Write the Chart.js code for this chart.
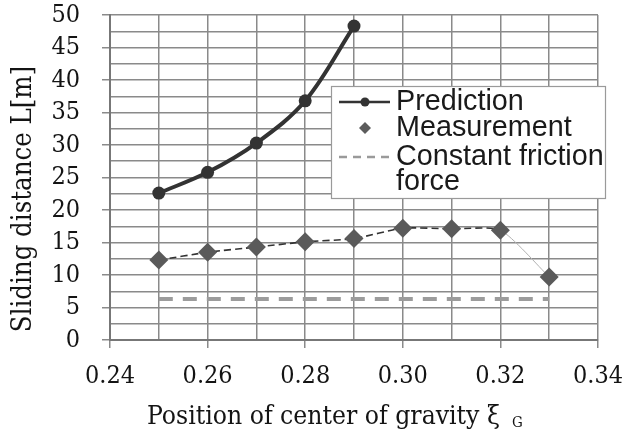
<!DOCTYPE html>
<html><head><meta charset="utf-8">
<script src="https://cdn.jsdelivr.net/npm/chart.js@4/dist/chart.umd.min.js"></script>
<style>html,body{margin:0;padding:0;background:#fff}canvas{display:block}</style>
</head><body>
<canvas id="c" width="625" height="430"></canvas>
<script>
// ---- data ----
const predictionX = [0.25, 0.26, 0.27, 0.28, 0.29];
const predictionY = [22.6, 25.8, 30.3, 36.8, 48.3];
const measurementX = [0.25, 0.26, 0.27, 0.28, 0.29, 0.30, 0.31, 0.32, 0.33];
const measurementY = [12.3, 13.5, 14.3, 15.1, 15.6, 17.2, 17.1, 16.9, 9.7];
const frictionX = [0.25, 0.33];
const frictionY = [6.3, 6.3];
const xTickLabels = ['0.24', '0.26', '0.28', '0.30', '0.32', '0.34'];
const yTickLabels = ['0', '5', '10', '15', '20', '25', '30', '35', '40', '45', '50'];
const seriesNames = ['Prediction', 'Measurement', 'Constant friction force'];
const xTitle = 'Position of center of gravity ξ';
const xTitleSub = 'G';
const yTitle = 'Sliding distance L[m]';

const pts = (xs, ys) => xs.map((x, i) => ({x, y: ys[i]}));
const serif = "'DejaVu Serif', serif";
const sans = "'Liberation Sans', Arial, sans-serif";
const GRID = '#8a8a8a';
const TXT = '#141414';

function fitFont(ctx, text, prefix, family, target) {
  let s = 10;
  for (; s < 60; s += 0.25) {
    ctx.font = prefix + s + 'px ' + family;
    if (ctx.measureText(text).width >= target) break;
  }
  return s;
}

const isMajorY = v => yTickLabels.includes(String(Math.round(v * 100) / 100));
const xLabelOf = v => { const s = v.toFixed(2); return xTickLabels.includes(s) ? s : ''; };

const legendPlugin = {
  id: 'customLegend',
  afterDatasetsDraw(chart) {
    const ctx = chart.ctx;
    ctx.save();
    const bx = 331, by = 86, bw = 274, bh = 112;
    ctx.fillStyle = '#fff';
    ctx.fillRect(bx, by, bw, bh);
    ctx.strokeStyle = '#9a9a9a';
    ctx.lineWidth = 1.2;
    ctx.strokeRect(bx + 0.5, by + 0.5, bw, bh);
    const iconL = 339, iconR = 390, iconC = 365, tx = 396;
    const rows = [102, 128, 157, 182];
    ctx.strokeStyle = '#333'; ctx.lineWidth = 2.5; ctx.setLineDash([]);
    ctx.beginPath(); ctx.moveTo(iconL, rows[0]); ctx.lineTo(iconR, rows[0]); ctx.stroke();
    ctx.fillStyle = '#333';
    ctx.beginPath(); ctx.arc(iconC, rows[0], 4.5, 0, Math.PI * 2); ctx.fill();
    ctx.fillStyle = '#5c5c5c';
    ctx.beginPath();
    ctx.moveTo(iconC, rows[1] - 6); ctx.lineTo(iconC + 6, rows[1]);
    ctx.lineTo(iconC, rows[1] + 6); ctx.lineTo(iconC - 6, rows[1]); ctx.closePath(); ctx.fill();
    ctx.strokeStyle = '#9a9a9a'; ctx.lineWidth = 2.5; ctx.setLineDash([8, 6]);
    ctx.beginPath(); ctx.moveTo(iconL, rows[2]); ctx.lineTo(iconR, rows[2]); ctx.stroke();
    ctx.setLineDash([]);
    const fs = fitFont(ctx, 'Constant friction', '', sans, 206);
    ctx.font = fs + 'px ' + sans;
    ctx.fillStyle = '#1a1a1a';
    ctx.textBaseline = 'middle';
    ctx.textAlign = 'left';
    ctx.fillText(seriesNames[0], tx, rows[0]);
    ctx.fillText(seriesNames[1], tx, rows[1]);
    const words = seriesNames[2].split(' ');
    ctx.fillText(words.slice(0, 2).join(' '), tx, rows[2]);
    ctx.fillText(words.slice(2).join(' '), tx, rows[3]);
    ctx.restore();
  }
};

const titlesPlugin = {
  id: 'axisTitles',
  afterDraw(chart) {
    const ctx = chart.ctx;
    ctx.save();
    ctx.fillStyle = TXT;
    const pre = 'semi-condensed ';
    const ys = fitFont(ctx, yTitle, pre, serif, 265);
    ctx.font = pre + ys + 'px ' + serif;
    ctx.translate(24, 199);
    ctx.rotate(-Math.PI / 2);
    ctx.textAlign = 'center';
    ctx.textBaseline = 'middle';
    ctx.fillText(yTitle, 0, 0);
    ctx.setTransform(1, 0, 0, 1, 0, 0);
    const xs = fitFont(ctx, xTitle, pre, serif, 350);
    ctx.font = pre + xs + 'px ' + serif;
    ctx.textAlign = 'left';
    ctx.textBaseline = 'alphabetic';
    ctx.fillText(xTitle, 147, 424);
    ctx.font = pre + '15px ' + serif;
    ctx.fillText(xTitleSub, 512, 427);
    ctx.restore();
  }
};

const tickFont = { family: serif, size: 25, weight: 'semi-condensed' };

new Chart(document.getElementById('c'), {
  type: 'scatter',
  data: {
    datasets: [
      {
        label: seriesNames[0],
        data: pts(predictionX, predictionY),
        showLine: true,
        borderColor: '#333',
        backgroundColor: '#333',
        borderWidth: 4,
        pointRadius: 6.5,
        pointBorderWidth: 0,
        tension: 0.35
      },
      {
        label: seriesNames[1],
        data: pts(measurementX, measurementY),
        showLine: false,
        pointStyle: 'rectRot',
        pointRadius: 9.5,
        pointBorderWidth: 0,
        backgroundColor: '#5a5a5a',
        borderColor: '#5a5a5a'
      },
      {
        label: 'trend',
        data: pts(measurementX, measurementY),
        showLine: true,
        pointRadius: 0,
        borderColor: '#333',
        borderWidth: 1.6,
        borderDash: [7, 4],
        tension: 0.2,
        segment: {
          borderColor: c => c.p1DataIndex === measurementX.length - 1 ? '#b0b0b0' : undefined,
          borderDash: c => c.p1DataIndex === measurementX.length - 1 ? [] : undefined,
          borderWidth: c => c.p1DataIndex === measurementX.length - 1 ? 1 : undefined
        }
      },
      {
        label: seriesNames[2],
        data: pts(frictionX, frictionY),
        showLine: true,
        pointRadius: 0,
        borderColor: '#9c9c9c',
        borderWidth: 4,
        borderDash: [14, 10]
      }
    ]
  },
  options: {
    responsive: false,
    animation: false,
    devicePixelRatio: 1,
    layout: { padding: { top: 15, right: 27, left: 0, bottom: 0 } },
    plugins: { legend: { display: false }, tooltip: { enabled: false } },
    scales: {
      x: {
        type: 'linear', min: 0.24, max: 0.34,
        afterFit: s => { s.height = 90; s.paddingLeft = 0; s.paddingRight = 0; },
        ticks: {
          stepSize: 0.01, autoSkip: false, maxRotation: 0, padding: 13,
          color: TXT, font: tickFont,
          callback: v => xLabelOf(v)
        },
        grid: {
          color: GRID, lineWidth: 1.5, tickLength: 8,
          tickColor: c => (c.tick && xLabelOf(c.tick.value)) ? GRID : 'rgba(0,0,0,0)'
        },
        border: { color: '#777', width: 2 }
      },
      y: {
        type: 'linear', min: 0, max: 50,
        afterFit: s => { s.width = 110; s.paddingTop = 0; s.paddingBottom = 0; },
        ticks: {
          stepSize: 2.5, autoSkip: false, padding: 22,
          color: TXT, font: tickFont,
          callback: v => isMajorY(v) ? String(Math.round(v)) : ''
        },
        grid: {
          color: GRID, lineWidth: 1.5, tickLength: 8,
          tickColor: c => (c.tick && isMajorY(c.tick.value)) ? GRID : 'rgba(0,0,0,0)'
        },
        border: { color: '#777', width: 2 }
      }
    }
  },
  plugins: [legendPlugin, titlesPlugin]
});
</script>
</body></html>
